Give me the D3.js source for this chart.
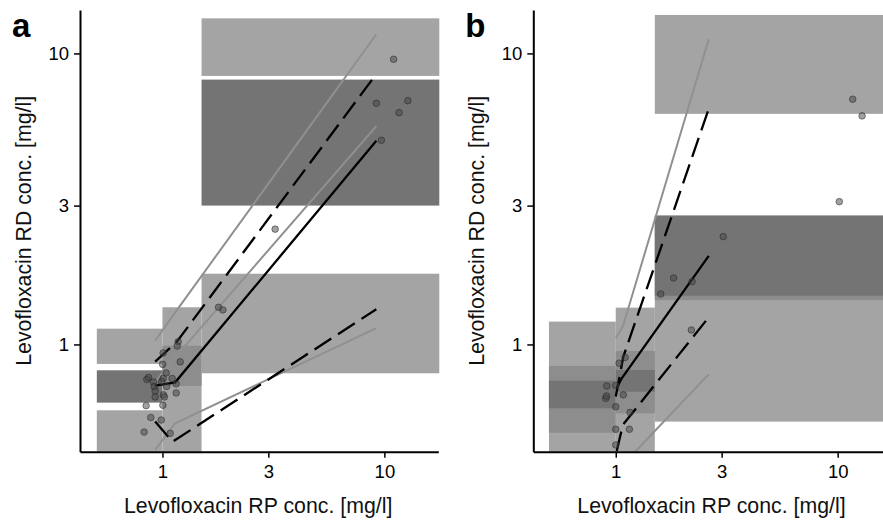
<!DOCTYPE html>
<html>
<head>
<meta charset="utf-8">
<script src="https://cdn.jsdelivr.net/npm/d3@7"></script>
<style>
  body { margin: 0; background: #fff; }
  text { font-family: "Liberation Sans", Arial, sans-serif; fill: #000; }
</style>
</head>
<body>
<div class="chart"></div>
<script>
// tick values shared by both axes
var tickValues = [1, 3, 10];
var xTitle = "Levofloxacin RP conc. [mg/l]";
var yTitle = "Levofloxacin RD conc. [mg/l]";

// shaded zones: [x0, x1, y0, y1, level]
var zonesA = [
  [1.5, 30, 8.37, 13.2, "light"],
  [1.5, 30, 3.0, 8.13, "dark"],
  [1.5, 30, 0.796, 1.75, "light"],
  [0.506, 1.0, 0.857, 1.133, "light"],
  [0.506, 1.0, 0.631, 0.815, "dark"],
  [0.506, 1.0, 0.2, 0.594, "light"],
  [1.0, 1.5, 0.2, 1.342, "light"],
  [1.0, 1.5, 0.72, 0.99, "mid"]
];
var zonesB = [
  [1.5, 30, 6.2, 13.56, "light"],
  [1.5, 30, 0.543, 2.77, "light"],
  [1.5, 30, 1.42, 2.77, "mid"],
  [1.5, 30, 1.47, 2.77, "dark"],
  [0.5, 1.0, 0.2, 1.198, "light"],
  [0.5, 1.0, 0.4975, 0.844, "mid"],
  [0.5, 1.0, 0.6035, 0.751, "dark"],
  [1.0, 1.5, 0.2, 1.338, "light"],
  [1.0, 1.5, 0.58, 0.95, "mid"],
  [1.0, 1.5, 0.688, 0.817, "dark"]
];

// fitted curves: prediction band (pi), confidence band (ci), fit
var linesA = [
  { kind: "pi", pts: [[0.927, 1.03], [1.106, 1.246], [9.2, 11.64]] },
  { kind: "pi", pts: [[0.927, 0.737], [1.028, 0.824], [9.2, 5.63]] },
  { kind: "pi", pts: [[0.927, 0.434], [1.141, 0.536], [9.2, 1.137]] },
  { kind: "ci", pts: [[0.927, 0.873], [1.161, 1.022], [9.2, 8.5]] },
  { kind: "ci", pts: [[0.927, 0.543], [1.11, 0.463], [9.2, 1.321]] },
  { kind: "fit", pts: [[0.927, 0.722], [1.141, 0.741], [9.2, 5.01]] }
];
var linesB = [
  { kind: "pi", pts: [[1.0, 1.05], [1.076, 1.151], [2.624, 11.19]] },
  { kind: "pi", pts: [[1.223, 0.428], [2.624, 0.79]] },
  { kind: "ci", pts: [[1.0, 0.662], [1.082, 0.908], [2.624, 6.45]] },
  { kind: "ci", pts: [[1.01, 0.43], [1.076, 0.529], [2.58, 1.22]] },
  { kind: "fit", pts: [[1.01, 0.709], [1.064, 0.765], [2.624, 2.014]] }
];

// observations [RP, RD]
var pointsA = [
  [11.01, 9.55], [9.2, 6.74], [12.76, 6.88], [11.65, 6.26], [9.69, 5.03],
  [3.22, 2.49], [1.789, 1.342], [1.873, 1.314], [1.177, 1.022], [1.165, 0.988],
  [1.007, 0.935], [1.202, 0.871], [1.002, 0.854], [1.039, 0.798], [0.85, 0.758],
  [0.866, 0.77], [0.911, 0.743], [0.918, 0.717], [0.927, 0.692], [0.927, 0.66],
  [1.007, 0.764], [0.992, 0.746], [1.044, 0.717], [1.106, 0.764], [1.153, 0.732],
  [1.01, 0.671], [1.021, 0.66], [1.153, 0.681], [0.844, 0.616], [1.004, 0.618],
  [0.886, 0.561], [0.987, 0.55], [0.827, 0.5], [1.083, 0.495]
];
var pointsB = [
  [0.911, 0.72], [0.901, 0.653], [0.909, 0.665], [1.0, 0.723], [1.035, 0.862],
  [1.102, 0.902], [1.082, 0.671], [1.0, 0.611], [1.16, 0.584], [1.0, 0.511],
  [1.152, 0.511], [1.0, 0.4515], [1.595, 1.491], [1.822, 1.692], [2.207, 1.644],
  [3.05, 2.347], [2.191, 1.121], [10.17, 3.095], [11.69, 6.96], [12.88, 6.1]
];

var width = 883, height = 522;
var svg = d3.select(".chart").append("svg")
  .attr("width", width)
  .attr("height", height)
  .style("display", "block");

var shade = d3.scaleOrdinal()
  .domain(["light", "mid", "dark"])
  .range(["#a4a4a4", "#8d8d8d", "#747474"]);

function drawPanel(id, label, left, zones, lines, points) {
  var top = 10, bottom = 451.7, w = 358.3;

  var x = d3.scaleLog().domain([0.425, 17.5]).range([left, left + w]);
  var y = d3.scaleLog().domain([0.428, 14.1]).range([bottom, top]);

  svg.append("clipPath").attr("id", "clip-" + id)
    .append("rect")
    .attr("x", left).attr("y", top)
    .attr("width", w + 1).attr("height", bottom - top);

  var g = svg.append("g").attr("clip-path", "url(#clip-" + id + ")");

  // zones
  g.selectAll(".zone").data(zones).enter().append("rect")
    .attr("class", "zone")
    .attr("x", d => x(d[0]))
    .attr("width", d => x(d[1]) - x(d[0]))
    .attr("y", d => y(d[3]))
    .attr("height", d => y(d[2]) - y(d[3]))
    .attr("fill", d => shade(d[4]));

  var line = d3.line().x(d => x(d[0])).y(d => y(d[1]));

  // grey prediction lines first, then black ones
  var order = { pi: 0, ci: 1, fit: 2 };
  g.selectAll(".fit").data(lines.slice().sort((a, b) => order[a.kind] - order[b.kind]))
    .enter().append("path")
    .attr("class", "fit")
    .attr("d", d => line(d.pts))
    .attr("fill", "none")
    .attr("stroke", d => d.kind == "pi" ? "#909090" : "#000")
    .attr("stroke-width", d => d.kind == "pi" ? 2 : 2.3)
    .attr("stroke-dasharray", d => d.kind == "ci" ? "20,8" : null);

  g.selectAll(".obs").data(points).enter().append("circle")
    .attr("class", "obs")
    .attr("cx", d => x(d[0]))
    .attr("cy", d => y(d[1]))
    .attr("r", 3.3)
    .attr("fill", "#444")
    .attr("fill-opacity", 0.5)
    .attr("stroke", "#222")
    .attr("stroke-opacity", 0.5)
    .attr("stroke-width", 1);

  // axes
  var xAxis = d3.axisBottom(x).tickValues(tickValues).tickFormat(d3.format("d"))
    .tickSize(6).tickPadding(7).tickSizeOuter(0);
  var yAxis = d3.axisLeft(y).tickValues(tickValues).tickFormat(d3.format("d"))
    .tickSize(6).tickPadding(5).tickSizeOuter(0);

  var gx = svg.append("g").attr("transform", "translate(0," + bottom + ")").call(xAxis);
  var gy = svg.append("g").attr("transform", "translate(" + left + ",0)").call(yAxis);

  [gx, gy].forEach(function(a) {
    a.select(".domain").attr("stroke", "#000").attr("stroke-width", 2);
    a.selectAll(".tick line").attr("stroke", "#000").attr("stroke-width", 1.5);
    a.selectAll(".tick text").style("font-size", "18.5px")
      .style("font-family", '"Liberation Sans", Arial, sans-serif').attr("fill", "#111");
  });

  svg.append("text")
    .attr("x", left + w / 2 - 1)
    .attr("y", 513)
    .attr("text-anchor", "middle")
    .style("font-size", "21.3px")
    .style("fill", "#111")
    .text(xTitle);

  svg.append("text")
    .attr("transform", "translate(" + (left - 49) + "," + ((top + bottom) / 2) + ") rotate(-90)")
    .attr("text-anchor", "middle")
    .style("font-size", "21.3px")
    .style("fill", "#111")
    .text(yTitle);

  svg.append("text")
    .attr("x", left - 68)
    .attr("y", 36.5)
    .style("font-size", "33px")
    .style("font-weight", "bold")
    .text(label);
}

drawPanel("a", "a", 80, zonesA, linesA, pointsA);
drawPanel("b", "b", 533.3, zonesB, linesB, pointsB);
</script>
</body>
</html>
